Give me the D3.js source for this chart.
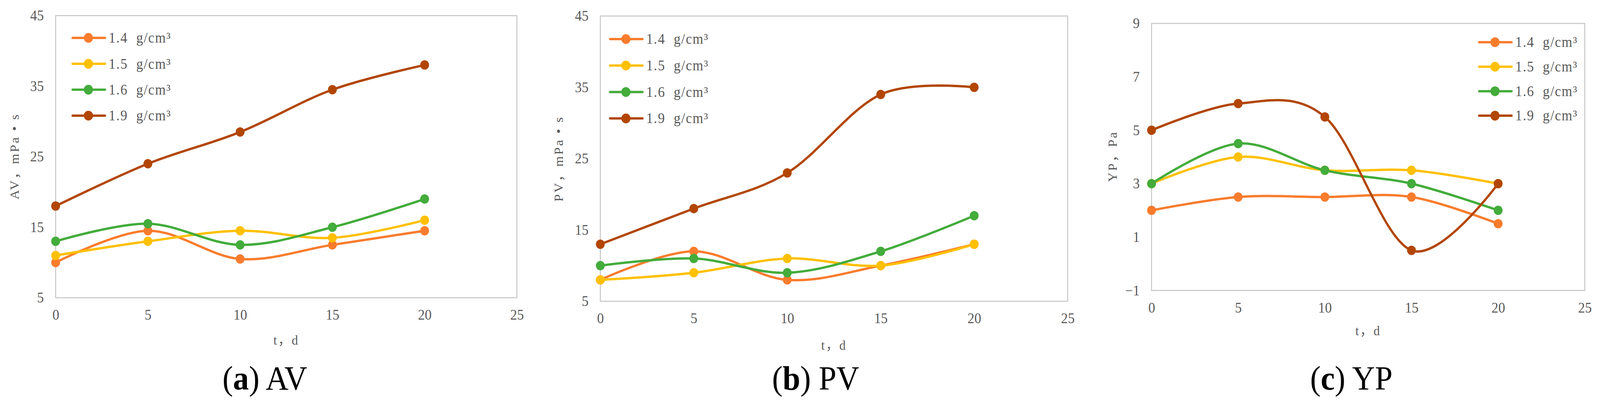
<!DOCTYPE html>
<html>
<head>
<meta charset="utf-8">
<script src="https://cdn.jsdelivr.net/npm/d3@7"></script>
<style>
  html, body { margin: 0; padding: 0; background: #fff; overflow: hidden; }
  #area svg { display: block; }
  text { font-family: "Liberation Serif", "Noto Sans CJK SC", serif; }
</style>
</head>
<body>
<div id="area"></div>
<script>
// data
var days = [0, 5, 10, 15, 20];
var densities = ["1.4", "1.5", "1.6", "1.9"];
var xTicks = [0, 5, 10, 15, 20, 25];

var av14 = [10, 14.5, 10.5, 12.5, 14.5];
var av15 = [11, 13, 14.5, 13.5, 16];
var av16 = [13, 15.5, 12.5, 15, 19];
var av19 = [18, 24, 28.5, 34.5, 38];
var avTicks = [5, 15, 25, 35, 45];

var pv14 = [8, 12, 8, 10, 13];
var pv15 = [8, 9, 11, 10, 13];
var pv16 = [10, 11, 9, 12, 17];
var pv19 = [13, 18, 23, 34, 35];
var pvTicks = [5, 15, 25, 35, 45];

var yp14 = [2, 2.5, 2.5, 2.5, 1.5];
var yp15 = [3, 4, 3.5, 3.5, 3];
var yp16 = [3, 4.5, 3.5, 3, 2];
var yp19 = [5, 6, 5.5, 0.5, 3];
var ypTicks = [-1, 1, 3, 5, 7, 9];

var colors = ["#F97C2D", "#FFC000", "#43AC3B", "#B24600"];
var textGrey = "#595959";

var W = 4343, H = 1039;

// layout of the three panels
var panels = [
  { tag: "a", name: "AV", yTitle: "AV，mPa • s", series: [av14, av15, av16, av19], ticks: avTicks,
    box: [151, 40, 1403, 762], yt: [40, 400], xtY: 882, leg: [197, 97, 66.3], titleX: 719 },
  { tag: "b", name: "PV", yTitle: "PV，mPa • s", series: [pv14, pv15, pv16, pv19], ticks: pvTicks,
    box: [1629.5, 41, 2898, 771], yt: [1517, 406], xtY: 895, leg: [1656, 100, 67.7], titleX: 2214 },
  { tag: "c", name: "YP", yTitle: "YP，Pa", series: [yp14, yp15, yp16, yp19], ticks: ypTicks,
    box: [3125.7, 60, 4301.7, 743.3], yt: [3020, 400], xtY: 858, leg: [4015, 108, 62.7], titleX: 3668 }
];

// fill the whole viewport with the 4343x1039 drawing
var svg = d3.select("#area").append("svg")
    .attr("viewBox", "0 0 " + W + " " + H)
    .attr("preserveAspectRatio", "none")
    .style("width", "100vw")
    .style("height", "100vh");

svg.append("rect")
    .attr("width", W)
    .attr("height", H)
    .attr("fill", "#fff");

panels.forEach(function(p) {
    var x0 = p.box[0], y0 = p.box[1], x1 = p.box[2], y1 = p.box[3];

    var x = d3.scaleLinear().domain([0, 25]).range([x0, x1]);
    var y = d3.scaleLinear().domain(d3.extent(p.ticks)).range([y1, y0]);

    var g = svg.append("g").attr("id", "panel" + p.tag);

    // plot frame
    g.append("rect")
        .attr("x", x0).attr("y", y0)
        .attr("width", x1 - x0).attr("height", y1 - y0)
        .attr("fill", "none")
        .attr("stroke", "#C4C4C4")
        .attr("stroke-width", 2.5);

    // y axis
    var yAxis = g.append("g")
        .attr("transform", "translate(" + (x0 - 32) + ",0)")
        .call(d3.axisLeft(y).tickValues(p.ticks).tickSize(0).tickPadding(0));
    yAxis.select(".domain").remove();
    yAxis.selectAll("text")
        .attr("fill", textGrey)
        .style("font-size", "37px")
        .style("font-family", '"Liberation Serif", serif');

    // x axis
    var xAxis = g.append("g")
        .attr("transform", "translate(0," + (y1 + 30) + ")")
        .call(d3.axisBottom(x).tickValues(xTicks).tickSize(0).tickPadding(0));
    xAxis.select(".domain").remove();
    xAxis.selectAll("text")
        .attr("fill", textGrey)
        .style("font-size", "37px")
        .style("font-family", '"Liberation Serif", serif');

    // axis titles
    g.append("text")
        .attr("transform", "translate(" + p.yt[0] + "," + p.yt[1] + ") rotate(-90)")
        .attr("text-anchor", "middle")
        .attr("dominant-baseline", "central")
        .attr("fill", textGrey)
        .style("font-size", "34px")
        .style("letter-spacing", "4px")
        .text(p.yTitle);

    g.append("text")
        .attr("x", (x0 + x1) / 2)
        .attr("y", p.xtY)
        .attr("text-anchor", "middle")
        .attr("fill", textGrey)
        .style("font-size", "34px")
        .style("letter-spacing", "3px")
        .text("t，d");

    // smoothed lines like the spreadsheet chart
    var line = d3.line()
        .x(function(d, i) { return x(days[i]); })
        .y(function(d) { return y(d); })
        .curve(d3.curveCatmullRom.alpha(0));

    p.series.forEach(function(s, k) {
        var sg = g.append("g");
        sg.append("path")
            .attr("d", line(s))
            .attr("fill", "none")
            .attr("stroke", colors[k])
            .attr("stroke-width", 6)
            .attr("stroke-linecap", "round");
        sg.selectAll("circle")
            .data(s)
            .enter().append("circle")
            .attr("cx", function(d, i) { return x(days[i]); })
            .attr("cy", function(d) { return y(d); })
            .attr("r", 12)
            .attr("fill", colors[k]);
    });

    // legend
    var leg = g.append("g");
    densities.forEach(function(d, k) {
        var ly = p.leg[1] + k * p.leg[2];
        leg.append("line")
            .attr("x1", p.leg[0]).attr("x2", p.leg[0] + 88)
            .attr("y1", ly).attr("y2", ly)
            .attr("stroke", colors[k])
            .attr("stroke-width", 6)
            .attr("stroke-linecap", "round");
        leg.append("circle")
            .attr("cx", p.leg[0] + 43).attr("cy", ly)
            .attr("r", 12.5)
            .attr("fill", colors[k]);
        leg.append("text")
            .attr("x", p.leg[0] + 98)
            .attr("y", ly)
            .attr("dominant-baseline", "central")
            .attr("fill", textGrey)
            .style("font-size", "37px")
            .style("letter-spacing", "2px")
            .style("white-space", "pre")
            .text(d + "  g/cm³");
    });

    // sub-caption
    var cap = g.append("text")
        .attr("x", p.titleX)
        .attr("y", 997)
        .attr("text-anchor", "middle")
        .attr("fill", "#000")
        .style("font-size", "86px");
    cap.append("tspan").text("(");
    cap.append("tspan").style("font-weight", "bold").text(p.tag);
    cap.append("tspan").text(") " + p.name);
});
</script>
</body>
</html>
